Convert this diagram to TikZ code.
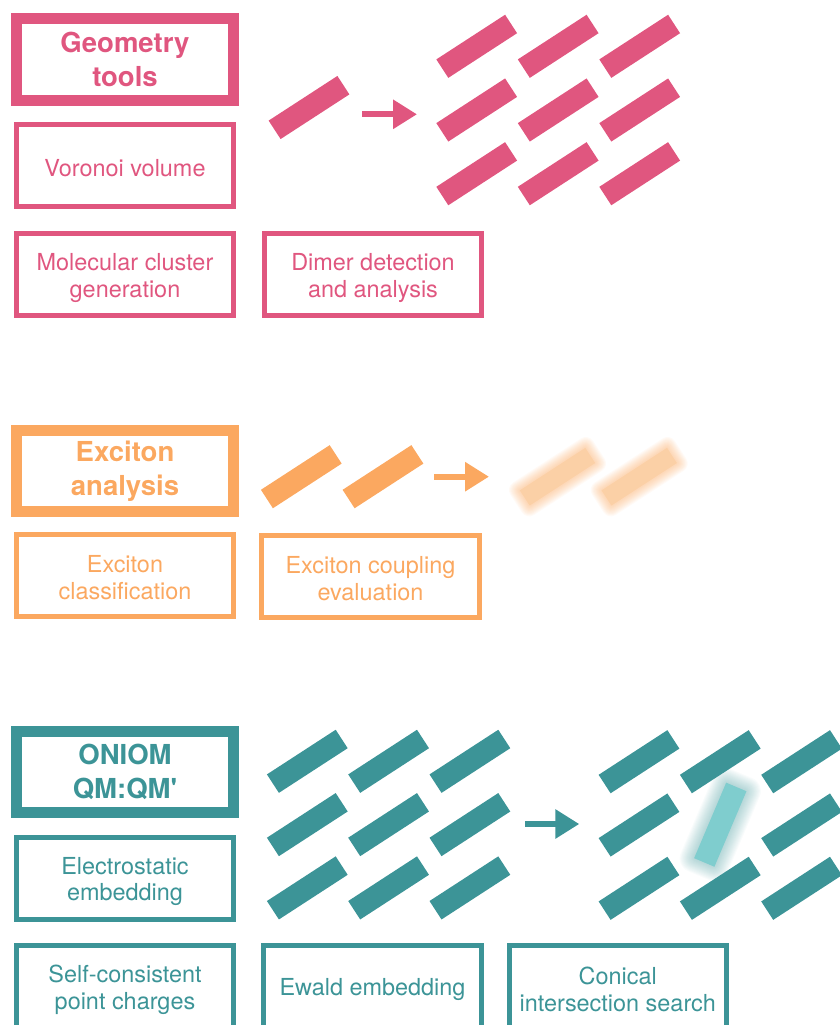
\documentclass[tikz,border=0pt]{standalone}
\usepackage{fontspec}
\setmainfont{TeX Gyre Heros}
\usetikzlibrary{arrows.meta, positioning}

\definecolor{geopink}{HTML}{E0567F}
\definecolor{excorange}{HTML}{FBA860}
\definecolor{excpale}{HTML}{FCCEA2}
\definecolor{qmteal}{HTML}{3C9497}
\definecolor{qmpale}{HTML}{7FCDCE}

\tikzset{
  titlebox/.style={draw, line width=0.33cm, minimum width=6.51cm, minimum height=2.45cm,
    align=center, inner sep=0pt, font=\fontsize{23.5}{29}\selectfont\bfseries},
  toolbox/.style={draw, line width=0.15cm, minimum width=6.51cm, minimum height=2.46cm,
    align=center, inner sep=0pt, font=\fontsize{20}{23}\selectfont,
    execute at begin node={\rule{0pt}{#1}}},
  toolbox/.default=20pt,
  mol/.style={rectangle, inner sep=0pt, minimum width=2.46cm, minimum height=0.66cm, rotate=33},
  halo/.style={rectangle, inner sep=0pt, opacity=0.055, rounded corners=#1*0.012cm,
    minimum width=2.3cm+#1*0.03cm, minimum height=0.5cm+#1*0.03cm},
  flow/.style={line width=0.18cm, -{Triangle[length=0.72cm, width=0.84cm]}}
}

\begin{document}
\begin{tikzpicture}[x=0.03cm, y=-0.03cm]
\useasboundingbox (0,0) rectangle (840,1025);

% Geometry tools
\node[titlebox, geopink] (geo) at (125,59.8) {Geometry\\tools};
\node[toolbox, geopink] (voronoi) at (125,165) {Voronoi volume};
\node[toolbox=43pt, geopink] (cluster) at (125,274.5) {Molecular cluster\\generation};
\node[toolbox=43pt, geopink] (dimer) at (373,274.5) {Dimer detection\\and analysis};

\node[mol, fill=geopink] (single) at (309,107.5) {};
\coordinate (ga) at (362,114.3);
\coordinate (gb) at (417,114.3);
\draw[flow, geopink] (ga) -- (gb);
\foreach \i in {0,1,2}
  \foreach \j in {0,1,2}
    \node[mol, fill=geopink] (crys\i\j) at (476.7+81.5*\i, 46.3+63.7*\j) {};

% Exciton analysis
\node[titlebox, excorange] (exc) at (125,471) {Exciton\\analysis};
\node[toolbox=42pt, excorange] (classify) at (125,575.3) {Exciton\\classification};
\node[toolbox=42pt, excorange] (coupling) at (370.5,576.2) {Exciton coupling\\evaluation};

\node[mol, fill=excorange] (da) at (301.3,476.7) {};
\node[mol, fill=excorange] (db) at (383,476.7) {};
\coordinate (ea) at (434,476.7);
\coordinate (eb) at (489,476.7);
\draw[flow, excorange] (ea) -- (eb);
\foreach \x in {557.5,639.2} {
  \foreach \g in {22,20,...,2}
    \node[halo=\g, rotate=33, fill=excorange] at (\x,476.7) {};
  \node[mol, fill=excpale, opacity=0.8, minimum width=2.34cm, minimum height=0.54cm] (ex\x) at (\x,476.7) {};
}

% ONIOM QM:QM'
\node[titlebox, qmteal] (oniom) at (125,772) {ONIOM\\QM:QM\textquotesingle};
\node[toolbox=43pt, qmteal] (electro) at (125,878.3) {Electrostatic\\embedding};
\node[toolbox=43pt, qmteal] (selfcons) at (125,986.8) {Self-consistent\\point charges};
\node[toolbox, qmteal] (ewald) at (372.5,986.8) {Ewald embedding};
\node[toolbox=42pt, qmteal] (conical) at (617.8,986.8) {Conical\\intersection search};

\foreach \i in {0,1,2}
  \foreach \j in {0,1,2}
    \node[mol, fill=qmteal] (la\i\j) at (307.3+81.3*\i, 761.3+63.3*\j) {};
\coordinate (qa) at (525,824);
\coordinate (qb) at (579.3,824);
\draw[flow, qmteal] (qa) -- (qb);
\foreach \i/\j in {0/0,1/0,2/0,0/1,2/1,0/2,1/2,2/2}
  \node[mol, fill=qmteal] (ra\i\j) at (639+81.3*\i, 761.7+63.3*\j) {};
\foreach \g in {34,32,...,2}
  \node[halo=\g, rotate=67, fill=qmteal, opacity=0.032] at (720.3,824.7) {};
\node[mol, rotate=34, fill=qmpale] (excited) at (720.3,824.7) {};
\end{tikzpicture}
\end{document}
